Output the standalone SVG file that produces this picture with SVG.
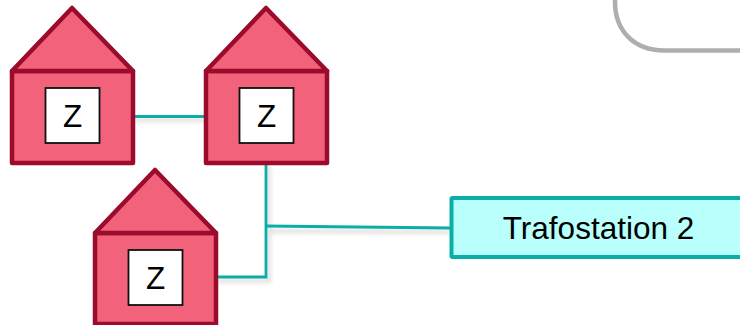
<svg xmlns="http://www.w3.org/2000/svg" width="740" height="325" viewBox="0 0 740 325">
<defs>
<style>
.wall{fill:#f2637b;stroke:#9b0b2b;stroke-width:4.500;stroke-linejoin:round}
.meter{fill:#fff;stroke:#111;stroke-width:1.800}
.z{font-family:"Liberation Sans",Arial,sans-serif;font-size:31.500px;fill:#000;text-anchor:middle}
.shadow{fill:none;stroke:#777;stroke-width:3;opacity:.3}
.wire{fill:none;stroke:#0aaea9;stroke-width:2.800}
</style>
<filter id="blur" x="-20%" y="-50%" width="140%" height="200%"><feGaussianBlur stdDeviation="2"/></filter>
</defs>
<path d="M615 0V2C615 30 633 50 664 50.500H740" fill="none" stroke="#aeaeae" stroke-width="4.500"/>
<g id="connectors">
<path class="shadow" filter="url(#blur)" d="M135 120H205M218 281H269V166M269 231L450 232"/>
<path class="wire" d="M135 116.500H205"/>
<path class="wire" d="M218 277H266V164"/>
<path class="wire" d="M266 226L451 228"/>
</g>
<g id="house-1">
<path class="wall" d="M12 71H133V163H12Z"/>
<path class="wall" d="M12 71L72 8L133 71Z"/>
<rect class="meter" x="45.500" y="88" width="54" height="55"/>
<text class="z" x="72.500" y="127">Z</text>
</g>
<g id="house-2">
<path class="wall" d="M206 71H327V163H206Z"/>
<path class="wall" d="M206 71L266 8L327 71Z"/>
<rect class="meter" x="239.500" y="88" width="54" height="55"/>
<text class="z" x="266.500" y="127">Z</text>
</g>
<g id="house-3">
<path class="wall" d="M95 233H216V324H95Z"/>
<path class="wall" d="M95 233L155 170L216 233Z"/>
<rect class="meter" x="128.500" y="250" width="54" height="55"/>
<text class="z" x="155.500" y="289">Z</text>
</g>
<g id="trafostation-2">
<rect x="451.500" y="198" width="295" height="59" fill="#b9fffb" stroke="#0aaea9" stroke-width="4" rx="1"/>
<text x="598.500" y="239" font-family="Liberation Sans, Arial, sans-serif" font-size="31.500" fill="#000" text-anchor="middle">Trafostation 2</text>
</g>
</svg>
